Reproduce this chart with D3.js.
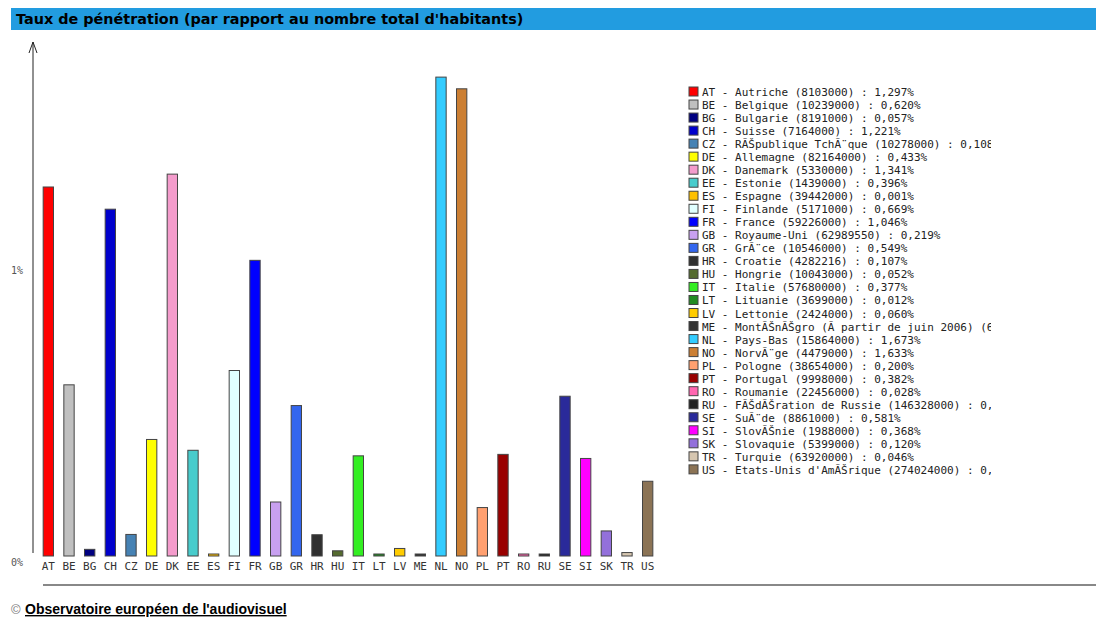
<!DOCTYPE html>
<html>
<head>
<meta charset="utf-8">
<script src="https://cdn.jsdelivr.net/npm/d3@7"></script>
<style>
  body { margin: 0; background: #fff; }
  svg { display: block; }
</style>
</head>
<body>
<div id="chart"></div>
<script>
var codes = ["AT","BE","BG","CH","CZ","DE","DK","EE","ES","FI","FR","GB","GR","HR","HU","IT","LT","LV","ME","NL","NO","PL","PT","RO","RU","SE","SI","SK","TR","US"]
var names = ["Autriche","Belgique","Bulgarie","Suisse","RÃŠpublique TchÃ¨que","Allemagne","Danemark","Estonie","Espagne","Finlande","France","Royaume-Uni","GrÃ¨ce","Croatie","Hongrie","Italie","Lituanie","Lettonie","MontÃŠnÃŠgro (Ã  partir de juin 2006)","Pays-Bas","NorvÃ¨ge","Pologne","Portugal","Roumanie","FÃŠdÃŠration de Russie","SuÃ¨de","SlovÃŠnie","Slovaquie","Turquie","Etats-Unis d'AmÃŠrique"]
var population = [8103000,10239000,8191000,7164000,10278000,82164000,5330000,1439000,39442000,5171000,59226000,62989550,10546000,4282216,10043000,57680000,3699000,2424000,620000,15864000,4479000,38654000,9998000,22456000,146328000,8861000,1988000,5399000,63920000,274024000]
var rates = [1.297,0.620,0.057,1.221,0.108,0.433,1.341,0.396,0.001,0.669,1.046,0.219,0.549,0.107,0.052,0.377,0.012,0.060,0.003,1.673,1.633,0.200,0.382,0.028,0.004,0.581,0.368,0.120,0.046,0.290]
var colors = ["#ff0000","#c0c0c0","#000080","#0000cc","#4682b4","#ffff00","#f49ccc","#48cccc","#ffc000","#e0ffff","#0000ff","#c8a0f0","#3366ee","#303030","#556b2f","#33ee22","#228b22","#ffcc00","#333333","#33ccff","#cc7f33","#ffa070","#990000","#ff66b0","#222222","#2a2a9a","#ff00ff","#9370db","#d6c6b0","#8b7355"]
var yTicks = [0, 1]

var width = 1096, height = 619
var mono = "'DejaVu Sans Mono', monospace"
var barBase = 556

var svg = d3.select("#chart").append("svg")
    .attr("width", width)
    .attr("height", height)

// title bar
svg.append("rect")
    .attr("x", 11).attr("y", 8)
    .attr("width", width - 11).attr("height", 22)
    .attr("fill", "#229ce0")
svg.append("text")
    .attr("x", 16).attr("y", 24)
    .style("font", "bold 14.4px 'DejaVu Sans', Verdana, sans-serif")
    .text("Taux de pénétration (par rapport au nombre total d'habitants)")

var x = d3.scaleBand()
    .domain(codes)
    .range([38, 658])
    .paddingInner(0.5)
    .paddingOuter(0.25)
// zero of the value scale sits a little under the bar bottoms, as in the original
var y = d3.scaleLinear()
    .domain([0, 1.8])
    .range([566, 40])

// bars
svg.append("g")
    .selectAll("rect")
    .data(codes)
    .enter().append("rect")
    .attr("x", d => x(d))
    .attr("width", x.bandwidth())
    .attr("y", (d, i) => Math.min(y(rates[i]), barBase - 2))
    .attr("height", (d, i) => Math.max(barBase - y(rates[i]), 2))
    .attr("fill", (d, i) => colors[i])
    .attr("stroke", "#444")
    .attr("stroke-width", 1)

// x labels
svg.append("g")
    .attr("transform", `translate(0, ${barBase})`)
    .call(d3.axisBottom(x).tickSize(0).tickPadding(6))
    .call(g => g.select(".domain").remove())
    .selectAll("text")
    .style("font", "11px " + mono)
    .attr("fill", "#333")

// y axis with arrow
var yAxis = svg.append("g").attr("transform", "translate(33, 0)")
yAxis.append("line")
    .attr("y1", barBase - 3).attr("y2", 42)
    .attr("stroke", "#222")
yAxis.append("path")
    .attr("d", "M-4,53L0,42L4,53")
    .attr("fill", "none").attr("stroke", "#222")
yAxis.selectAll("text.tick")
    .data(yTicks)
    .enter().append("text")
    .attr("class", "tick")
    .attr("x", -22)
    .attr("y", d => y(d))
    .style("font", "10px " + mono)
    .attr("fill", "#555")
    .text(d => d + "%")

// legend (clipped like the original)
svg.append("clipPath").attr("id", "legclip")
    .append("rect").attr("x", 685).attr("y", 80).attr("width", 306).attr("height", 410)
var fmt = v => d3.format(".3f")(v).replace(".", ",") + "%"
var leg = svg.append("g").attr("clip-path", "url(#legclip)")
    .selectAll("g")
    .data(codes)
    .enter().append("g")
    .attr("transform", (d, i) => `translate(689, ${87 + i * 13.03})`)
leg.append("rect")
    .attr("width", 9).attr("height", 9)
    .attr("fill", (d, i) => colors[i])
    .attr("stroke", "#444")
leg.append("text")
    .attr("x", 13).attr("y", 9)
    .style("font", "11px " + mono)
    .attr("fill", "#222")
    .text((d, i) => `${d} - ${names[i]} (${population[i]}) : ${fmt(rates[i])}`)

// separator and footer
svg.append("line")
    .attr("x1", 43).attr("x2", width)
    .attr("y1", 585).attr("y2", 585)
    .attr("stroke", "#888").attr("stroke-width", 2)
svg.append("text")
    .attr("x", 11).attr("y", 614)
    .style("font", "13px 'Liberation Sans', Arial, sans-serif")
    .attr("fill", "#777")
    .text("©")
svg.append("text")
    .attr("x", 25).attr("y", 614)
    .style("font", "bold 14px 'Liberation Sans', Arial, sans-serif")
    .style("text-decoration", "underline")
    .text("Observatoire européen de l'audiovisuel")
</script>
</body>
</html>
